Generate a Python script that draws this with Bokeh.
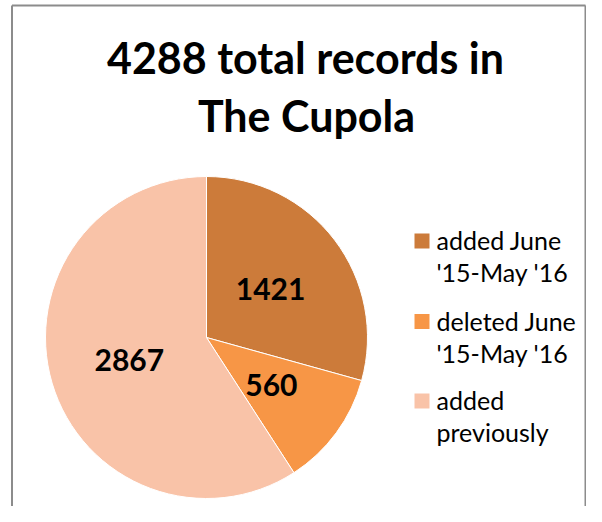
import numpy as np
from bokeh.plotting import figure
from bokeh.models import Range1d
from bokeh.core.properties import value
from bokeh.embed import file_html
from bokeh.resources import INLINE

# ---- data ----
title_lines = ["4288 total records in", "The Cupola"]
categories = ["added June '15-May '16", "deleted June '15-May '16", "added previously"]
legend_lines = [["added June", "'15-May '16"], ["deleted June", "'15-May '16"], ["added", "previously"]]
counts = [1421, 560, 2867]
colors = ["#CC7B3A", "#F79646", "#F9C3A8"]

W, H = 586, 506
p = figure(width=W, height=H, output_backend="svg", toolbar_location=None,
           x_range=Range1d(0, W), y_range=Range1d(0, H), min_border=0)
p.axis.visible = False
p.grid.visible = False
p.outline_line_color = None
p.background_fill_color = "white"
p.border_fill_color = "white"

def X(ix):
    return ix
def Y(iy):
    return H - iy

# chart-area border
p.segment(x0=[X(11.5), X(11.5), X(585)], y0=[Y(520), Y(5), Y(5)],
          x1=[X(11.5), X(585), X(585)], y1=[Y(5), Y(5), Y(520)],
          line_color="#8C8C8C", line_width=2)

# title
p.text(x=[X(305), X(306)], y=[Y(56.5), Y(114.5)], text=title_lines,
       text_font=value("Lato"), text_font_style="bold", text_font_size="43px",
       text_align="center", text_baseline="middle", text_color="black")

# pie
vals = np.array(counts, dtype=float)
frac = vals / vals.sum()
cum = np.concatenate([[0], np.cumsum(frac)])
start = np.pi / 2 - cum[:-1] * 2 * np.pi
end = np.pi / 2 - cum[1:] * 2 * np.pi
cx, cy, r = X(206), Y(337), 161
p.wedge(x=cx, y=cy, radius=r, start_angle=start, end_angle=end, direction="clock",
        fill_color=colors, line_color="white", line_width=1)

mid = (start + end) / 2
lx = cx + 0.5 * r * np.cos(mid)
ly = cy + 0.5 * r * np.sin(mid)
p.text(x=lx, y=ly, text=[str(c) for c in counts], text_font=value("Lato"),
       text_font_style="bold", text_font_size="30px", text_align="center",
       text_baseline="middle", text_color="black")

# legend
sq_x = X(421.5)
sq_y = [Y(240.5), Y(321), Y(400.5)]
p.rect(x=[sq_x] * 3, y=sq_y, width=15, height=15, fill_color=colors, line_color=None)
tx, ty, tt = [], [], []
base = [248, 329, 408]
for i, lines in enumerate(legend_lines):
    for j, ln in enumerate(lines):
        tx.append(X(436))
        ty.append(Y(base[i] + 32 * j - 9))
        tt.append(ln)
p.text(x=tx, y=ty, text=tt, text_font=value("Lato"), text_font_size="25px",
       text_align="left", text_baseline="middle", text_color="black")

open("out.html", "w").write(file_html(p, INLINE))
